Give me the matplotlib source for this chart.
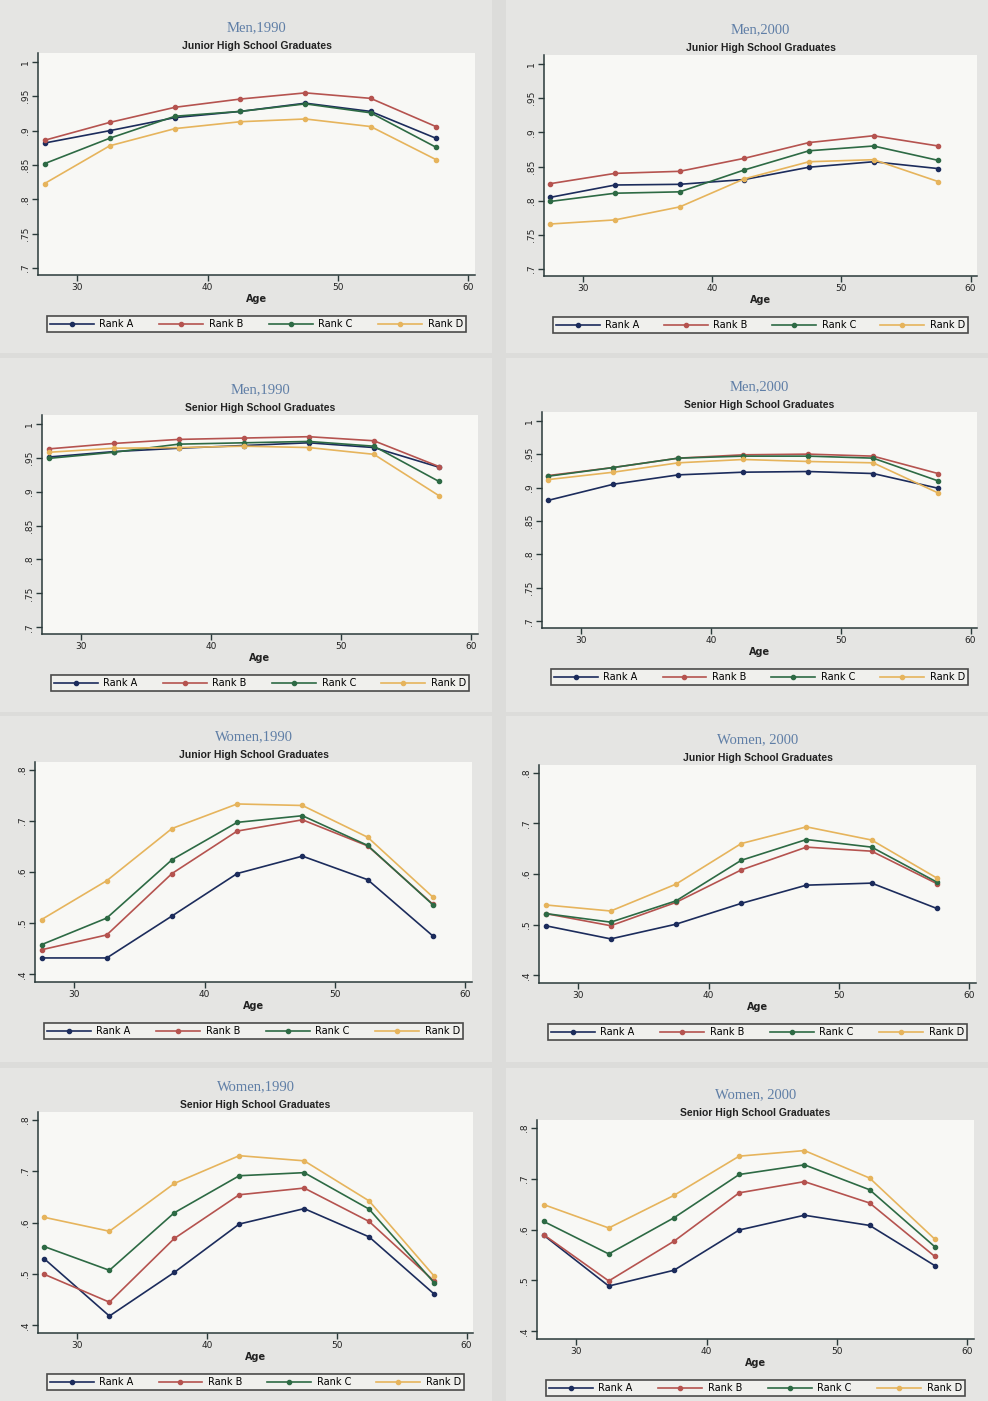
import matplotlib
matplotlib.use('Agg')
import matplotlib.pyplot as plt
from matplotlib.patches import Rectangle
from matplotlib.lines import Line2D

# data (share by age group, ranks A-D)
ages = [27.5, 32.5, 37.5, 42.5, 47.5, 52.5, 57.5]
ranks = ['Rank A', 'Rank B', 'Rank C', 'Rank D']

men_1990_junior = [
    [0.882, 0.900, 0.919, 0.928, 0.940, 0.928, 0.889],
    [0.886, 0.912, 0.934, 0.946, 0.955, 0.947, 0.906],
    [0.852, 0.889, 0.921, 0.928, 0.939, 0.926, 0.876],
    [0.823, 0.878, 0.903, 0.913, 0.917, 0.906, 0.858],
]
men_2000_junior = [
    [0.805, 0.823, 0.824, 0.831, 0.849, 0.857, 0.847],
    [0.825, 0.840, 0.843, 0.862, 0.885, 0.895, 0.880],
    [0.799, 0.811, 0.813, 0.845, 0.873, 0.880, 0.859],
    [0.766, 0.772, 0.791, 0.832, 0.857, 0.860, 0.828],
]
men_1990_senior = [
    [0.951, 0.959, 0.964, 0.968, 0.972, 0.965, 0.936],
    [0.963, 0.971, 0.977, 0.979, 0.981, 0.975, 0.937],
    [0.949, 0.958, 0.970, 0.972, 0.974, 0.967, 0.915],
    [0.958, 0.964, 0.965, 0.967, 0.965, 0.955, 0.894],
]
men_2000_senior = [
    [0.881, 0.905, 0.919, 0.923, 0.924, 0.921, 0.899],
    [0.918, 0.930, 0.944, 0.949, 0.950, 0.947, 0.921],
    [0.917, 0.930, 0.944, 0.947, 0.947, 0.944, 0.910],
    [0.912, 0.923, 0.937, 0.942, 0.939, 0.937, 0.892],
]
women_1990_junior = [
    [0.432, 0.432, 0.514, 0.597, 0.631, 0.585, 0.475],
    [0.448, 0.477, 0.597, 0.680, 0.702, 0.651, 0.537],
    [0.458, 0.510, 0.624, 0.697, 0.710, 0.652, 0.536],
    [0.507, 0.583, 0.685, 0.733, 0.730, 0.668, 0.551],
]
women_2000_junior = [
    [0.498, 0.472, 0.501, 0.542, 0.578, 0.582, 0.532],
    [0.522, 0.498, 0.544, 0.608, 0.653, 0.645, 0.581],
    [0.522, 0.505, 0.547, 0.627, 0.668, 0.653, 0.584],
    [0.539, 0.527, 0.580, 0.660, 0.693, 0.667, 0.592],
]
women_1990_senior = [
    [0.529, 0.418, 0.503, 0.597, 0.627, 0.572, 0.461],
    [0.499, 0.445, 0.569, 0.654, 0.667, 0.602, 0.486],
    [0.553, 0.507, 0.619, 0.691, 0.697, 0.626, 0.483],
    [0.610, 0.583, 0.676, 0.730, 0.720, 0.642, 0.496],
]
women_2000_senior = [
    [0.589, 0.489, 0.520, 0.599, 0.628, 0.608, 0.529],
    [0.590, 0.499, 0.577, 0.672, 0.694, 0.652, 0.547],
    [0.616, 0.552, 0.623, 0.708, 0.727, 0.678, 0.566],
    [0.649, 0.603, 0.667, 0.744, 0.755, 0.701, 0.581],
]

titles = ['Men,1990', 'Men,2000', 'Men,1990', 'Men,2000',
          'Women,1990', 'Women, 2000', 'Women,1990', 'Women, 2000']
subtitles = ['Junior High School Graduates', 'Junior High School Graduates',
             'Senior High School Graduates', 'Senior High School Graduates',
             'Junior High School Graduates', 'Junior High School Graduates',
             'Senior High School Graduates', 'Senior High School Graduates']
panel_data = [men_1990_junior, men_2000_junior, men_1990_senior, men_2000_senior,
              women_1990_junior, women_2000_junior, women_1990_senior, women_2000_senior]

men_ticks = [0.7, 0.75, 0.8, 0.85, 0.9, 0.95, 1.0]
men_ticklabels = ['.7', '.75', '.8', '.85', '.9', '.95', '1']
women_ticks = [0.4, 0.5, 0.6, 0.7, 0.8]
women_ticklabels = ['.4', '.5', '.6', '.7', '.8']
age_ticks = [30, 40, 50, 60]

# layout (pixels): axes boxes left, top, right, bottom
W, H = 988, 1401
axes_px = [(38, 53, 475, 275), (544, 55, 977, 276),
           (42, 415, 478, 634), (542, 412, 977, 628),
           (35, 762, 472, 982), (539, 765, 976, 983),
           (38, 1112, 473, 1333), (537, 1120, 974, 1339)]
bg_px = [(0, 0, 492, 353), (506, 0, 988, 353),
         (0, 358, 492, 712), (506, 358, 988, 712),
         (0, 716, 492, 1062), (506, 716, 988, 1062),
         (0, 1068, 492, 1401), (506, 1068, 988, 1401)]

colors = ['#1c2c5c', '#b5534f', '#2d6a44', '#e6b45c']
axis_col = '#2a3a3a'

def fx(x):
    return x / W

def fy(y):
    return 1 - y / H

fig = plt.figure(figsize=(W / 100, H / 100), dpi=100)
fig.patch.set_facecolor('#dcdcda')

for (l, t, r, b) in bg_px:
    fig.patches.append(Rectangle((fx(l), fy(b)), fx(r - l), (b - t) / H,
                                 transform=fig.transFigure, facecolor='#e5e5e3',
                                 edgecolor='none', zorder=-10))

for i, (l, t, r, b) in enumerate(axes_px):
    ax = fig.add_axes([fx(l), fy(b), fx(r - l), (b - t) / H])
    ax.set_zorder(1)
    ax.set_facecolor('#f8f8f5')
    for k in range(4):
        ax.plot(ages, panel_data[i][k], color=colors[k], lw=1.2,
                marker='o', ms=3, label=ranks[k])
    ax.set_xlim(27.0, 60.5)
    ax.set_xticks(age_ticks)
    if i < 4:
        ax.set_ylim(0.69, 1.013)
        ax.set_yticks(men_ticks)
        ax.set_yticklabels(men_ticklabels, rotation=90, va='center')
    else:
        ax.set_ylim(0.385, 0.815)
        ax.set_yticks(women_ticks)
        ax.set_yticklabels(women_ticklabels, rotation=90, va='center')
    for s in ['top', 'right']:
        ax.spines[s].set_visible(False)
    for s in ['left', 'bottom']:
        ax.spines[s].set_color(axis_col)
        ax.spines[s].set_linewidth(1.1)
    ax.tick_params(colors=axis_col, labelcolor='#222222', labelsize=6.5,
                   length=4, width=1.0, pad=2)
    ax.set_xlabel('Age', fontsize=7, labelpad=1, fontweight='bold', color='#222222')

    cx = fx((l + r) / 2)
    fig.text(cx, fy(t - 25), titles[i], ha='center', va='center',
             fontsize=10.5, family='Liberation Serif', color='#5f7ea6')
    fig.text(cx, fy(t - 7), subtitles[i], ha='center', va='center',
             fontsize=7.5, family='Liberation Sans', fontweight='bold', color='#222222')

    # legend box below each panel
    lx0, lx1 = l + 4, r - 4
    ly0, ly1 = b + 38, b + 60
    handles = [Line2D([], [], color=colors[k], lw=1.2, marker='o', ms=3) for k in range(4)]
    leg = fig.legend(handles, ranks, loc='center', ncol=4, mode='expand',
                     bbox_to_anchor=(fx(lx0), fy(ly1), fx(lx1 - lx0), (ly1 - ly0) / H),
                     bbox_transform=fig.transFigure, fontsize=7, frameon=True,
                     fancybox=False, handlelength=4.5, borderpad=0.3,
                     columnspacing=1.0, handletextpad=0.6)
    leg.get_frame().set_edgecolor('#222222')
    leg.get_frame().set_linewidth(1.2)
    leg.get_frame().set_facecolor('#f3f3f0')

plt.savefig('out.png', dpi=100, facecolor=fig.get_facecolor())
